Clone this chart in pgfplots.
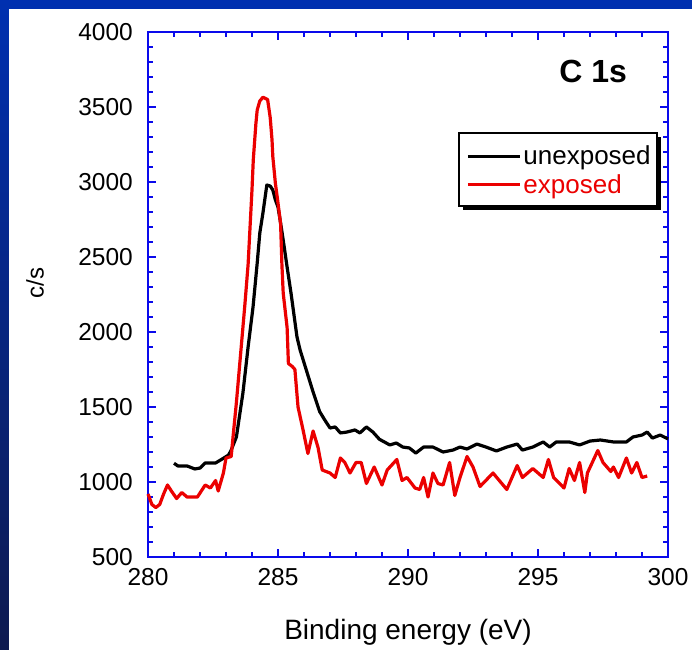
\documentclass[border=0pt]{standalone}
\usepackage{pgfplots}
\pgfplotsset{compat=1.18}
\usepackage{fontspec}
\setmainfont{Liberation Sans}
\definecolor{frameblue}{RGB}{0,48,176}
\definecolor{framenavy}{RGB}{14,26,80}
\definecolor{axblue}{RGB}{10,10,235}
\definecolor{xred}{RGB}{235,0,0}
\begin{document}
\begin{tikzpicture}
\useasboundingbox (0pt,0pt) rectangle (692pt,649pt);
\shade[top color=frameblue,bottom color=framenavy] (0pt,0pt) rectangle (692pt,649pt);
\fill[white] (9pt,-3pt) rectangle (695pt,640pt);
\begin{axis}[at={(148pt,92pt)}, anchor=south west, scale only axis,
 width=520pt, height=525pt,
 xmin=280, xmax=300, ymin=500, ymax=4000,
 xtick={280,285,...,300}, minor x tick num=4,
 ytick={500,1000,...,4000}, minor y tick num=4,
 tick align=inside, major tick length=8pt, minor tick length=5pt,
 axis line style={axblue, line width=2pt},
 every tick/.style={axblue, line width=1.5pt},
 tick label style={font=\fontsize{24.5}{24.5}\selectfont, inner sep=0pt},
 yticklabel style={xshift=-15pt},
 xticklabel style={yshift=-11pt},
 /pgf/number format/assume math mode=true,
 /pgf/number format/set thousands separator={},
 legend style={at={(rel axis cs:0.612,0.787)}, anchor=north west,
   draw=none, fill=none,
   font=\fontsize{26}{26}\selectfont, inner sep=0pt,
   nodes={inner sep=2pt}, row sep=4pt},
 legend cell align=left,
 legend image code/.code={\draw[#1, line width=3pt] (0pt,0pt) -- (52pt,0pt);},
 clip=false,
 ]
\fill[black] ([xshift=4pt,yshift=-4pt]rel axis cs:0.598,0.808) rectangle ([xshift=4pt,yshift=-4pt]rel axis cs:0.979,0.669);
\filldraw[fill=white, draw=black, line width=1.5pt] (rel axis cs:0.598,0.808) rectangle (rel axis cs:0.979,0.669);
\addplot[black, line width=3.2pt, line join=round] coordinates {
(281.0,1125) (281.15,1107) (281.5,1107) (281.8,1087) (282.0,1093) (282.2,1127)
(282.6,1127) (282.85,1153) (283.1,1180) (283.2,1213) (283.4,1300) (283.65,1593)
(283.85,1900) (284.04,2167) (284.2,2460) (284.3,2660) (284.42,2793) (284.57,2980)
(284.7,2973) (284.8,2947) (284.9,2880) (285.0,2833) (285.1,2727) (285.2,2613)
(285.35,2433) (285.5,2260) (285.73,1967) (285.85,1880) (286.1,1740) (286.35,1600)
(286.6,1470) (286.8,1413) (287.0,1360) (287.2,1367) (287.4,1327) (287.65,1333)
(287.96,1347) (288.15,1327) (288.4,1367) (288.65,1333) (288.9,1285) (289.3,1247)
(289.55,1260) (289.8,1233) (290.05,1227) (290.3,1193) (290.6,1233) (290.96,1233)
(291.35,1200) (291.73,1213) (292.0,1233) (292.27,1220) (292.65,1253) (293.0,1233)
(293.4,1207) (293.8,1233) (294.2,1253) (294.4,1213) (294.8,1233) (295.2,1267)
(295.45,1233) (295.7,1267) (296.2,1267) (296.6,1247) (297.0,1273) (297.4,1280)
(297.9,1267) (298.4,1267) (298.65,1300) (299.0,1313) (299.2,1333) (299.4,1293)
(299.7,1313) (300.0,1287)
};
\addlegendentry{unexposed}
\addplot[xred, line width=3.2pt, line join=round] coordinates {
(280.0,920) (280.15,850) (280.3,830) (280.45,850) (280.6,920) (280.75,980)
(280.9,940) (281.1,890) (281.3,930) (281.5,900) (281.9,900) (282.2,980)
(282.4,960) (282.6,1010) (282.7,940) (282.9,1060) (283.0,1160) (283.2,1170)
(283.27,1300) (283.4,1530) (283.54,1810) (283.73,2190) (283.85,2450) (284.0,2950)
(284.05,3150) (284.15,3390) (284.2,3480) (284.3,3540) (284.42,3565) (284.6,3550)
(284.7,3430) (284.77,3280) (284.8,3170) (284.9,2990) (285.0,2860) (285.1,2720)
(285.15,2450) (285.2,2260) (285.35,2030) (285.4,1790) (285.55,1770) (285.65,1750)
(285.77,1500) (285.96,1350) (286.15,1190) (286.35,1340) (286.54,1230) (286.7,1080)
(287.0,1060) (287.2,1030) (287.4,1160) (287.57,1130) (287.77,1060) (288.0,1130)
(288.2,1130) (288.4,990) (288.7,1100) (289.0,980) (289.2,1080) (289.57,1150)
(289.77,1010) (289.96,1030) (290.27,960) (290.45,950) (290.6,1030) (290.77,900)
(290.96,1060) (291.15,990) (291.35,980) (291.6,1130) (291.8,910) (292.0,1030)
(292.27,1170) (292.5,1100) (292.77,970) (293.27,1060) (293.8,950) (294.2,1110)
(294.4,1030) (294.8,1090) (295.2,1030) (295.4,1150) (295.6,1030) (296.0,960)
(296.2,1090) (296.4,1010) (296.6,1130) (296.8,930) (296.9,1060) (297.3,1210)
(297.5,1130) (297.8,1070) (297.9,1100) (298.1,1030) (298.4,1160) (298.6,1060)
(298.8,1130) (299.0,1030) (299.2,1040)
};
\addlegendentry{\textcolor{xred}{exposed}}
\node[font=\fontsize{32}{32}\selectfont\bfseries] at (rel axis cs:0.856,0.924) {C 1s};
\end{axis}
\node[font=\fontsize{28}{28}\selectfont] at (408pt,17pt) {Binding energy (eV)};
\node[font=\fontsize{24}{24}\selectfont, rotate=90] at (35pt,366pt) {c/s};
\end{tikzpicture}
\end{document}
